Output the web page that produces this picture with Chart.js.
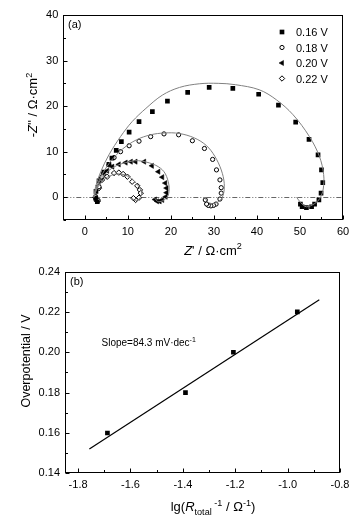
<!DOCTYPE html>
<html><head><meta charset="utf-8">
<script src="https://cdn.jsdelivr.net/npm/chart.js@4.4.1/dist/chart.umd.min.js"></script>
<style>
html,body{margin:0;padding:0;background:#fff;overflow:hidden;width:355px;height:524px}
#ca{position:absolute;left:0;top:0}
#cb{position:absolute;left:0;top:260px}
</style></head>
<body>
<canvas id="ca" width="355" height="260"></canvas>
<canvas id="cb" width="355" height="264"></canvas>
<script>
// ---------- Panel (a): Nyquist data (Z', -Z'') ----------
const A_LABELS = ['0.16 V', '0.18 V', '0.20 V', '0.22 V'];
const A_016 = [[2.5,-0.2],[2.9,-1.0],[2.6,1.3],[3.3,3.6],[4.4,5.5],[5.6,7.2],[6.3,8.6],[7.3,10.3],[8.5,12.2],[10.3,14.3],[12.6,16.6],[15.7,18.8],[19.2,21.1],[23.9,23.0],[28.9,24.1],[34.4,23.9],[40.4,22.6],[45.0,20.2],[49.0,16.5],[52.1,12.7],[54.2,9.3],[55.0,6.0],[55.3,3.2],[54.9,0.9],[54.4,-0.6],[53.4,-1.5],[52.7,-2.1],[51.5,-2.3],[50.5,-2.1],[50.1,-1.5]];
const A_018 = [[2.5,0.1],[3.1,-0.7],[3.3,2.3],[4.0,4.5],[5.6,7.1],[6.8,8.7],[8.3,10.0],[10.3,11.3],[12.6,12.3],[15.3,13.3],[18.4,13.9],[21.8,13.7],[25.0,12.4],[27.8,10.7],[29.7,8.3],[30.6,6.0],[31.4,3.8],[31.7,2.1],[31.7,0.9],[31.4,-0.4],[30.5,-1.5],[29.9,-1.8],[29.3,-1.9],[28.7,-1.8],[28.3,-1.5],[28.0,-0.6]];
const A_020 = [[2.5,0.0],[2.8,-0.8],[3.2,2.5],[3.8,4.2],[4.4,5.3],[5.2,5.8],[6.4,6.7],[7.9,7.2],[9.5,7.6],[10.7,7.8],[11.8,7.8],[13.8,7.8],[15.6,6.9],[17.1,5.6],[18.0,4.4],[18.7,3.1],[19.0,2.0],[19.0,1.0],[18.8,0.1],[18.0,-0.6],[17.4,-0.9],[16.8,-0.9],[16.3,-0.5]];
const A_022 = [[2.5,0.0],[2.9,-0.9],[3.3,2.0],[4.0,3.8],[5.2,4.5],[6.8,5.3],[7.9,5.4],[8.9,5.1],[9.9,4.5],[11.0,3.4],[12.2,2.5],[12.8,1.6],[13.0,0.9],[12.6,-0.1],[11.8,-0.6],[11.3,-0.2]];
// fitted curves (grey)
const FIT_016 = [[2.1,0],[2.5,2.3],[3.7,5.6],[5.6,9.3],[8.3,13.3],[11,16.6],[14.2,19.5],[18,22.4],[22,24.1],[26.6,24.9],[31,25.0],[35,24.7],[40.5,23.6],[44.5,21.4],[48.4,18.1],[52.2,13.3],[54.5,9.0],[55.5,5.0],[55.4,1.8],[54.6,-0.3],[53.4,-1.4],[51.5,-2.1],[50.2,-1.2],[49.2,0]];
const FIT_018 = [[2.1,0],[2.8,2.5],[4.2,5.3],[6.2,8.1],[8.8,10.6],[12,12.6],[15.3,13.7],[18.5,14.1],[21.9,14.0],[25.5,13.0],[28.3,11.3],[30.2,9.0],[31.7,6.0],[32.4,3.0],[32.1,0.3],[31.0,-1.0],[29.7,-1.4],[28.5,-1.0],[27.9,0]];
const FIT_020 = [[2.1,0],[2.8,2.2],[4.0,4.3],[5.5,5.8],[7.3,6.9],[9.5,7.6],[11.5,8.0],[13.4,7.9],[16.5,7.0],[18.4,5.6],[19.4,3.4],[19.6,1.6],[19.2,0.1],[18.0,-0.8],[16.9,-0.9],[16.1,0]];
const FIT_022 = [[2.1,0],[2.8,1.8],[3.8,3.3],[5.2,4.4],[6.8,5.0],[8.4,5.1],[10.0,4.6],[11.4,3.6],[12.6,2.3],[13.2,0.9],[12.6,-0.4],[11.7,-0.7],[11.0,-0.2]];
const A_X_TICKS = [0,10,20,30,40,50,60];
const A_X_MINOR = [5,15,25,35,45,55];
const A_Y_TICKS = [0,10,20,30,40];
const A_Y_MINOR = [-5,5,15,25,35];

// ---------- Panel (b): Tafel-type plot ----------
const B_X = [-1.688,-1.390,-1.207,-0.963];
const B_Y = [0.160,0.180,0.200,0.220];
const B_FIT_X = [-1.757,-0.879];
const B_FIT_Y = [0.152,0.226];
const B_X_TICKS = [-1.8,-1.6,-1.4,-1.2,-1.0,-0.8];
const B_X_MINOR = [-1.7,-1.5,-1.3,-1.1,-0.9];
const B_Y_TICKS = [0.14,0.16,0.18,0.20,0.22,0.24];
const B_Y_MINOR = [0.15,0.17,0.19,0.21,0.23];

const FAM = '"Liberation Sans", Arial, Helvetica, sans-serif';
const toXY = arr => arr.map(p => ({x:p[0], y:p[1]}));

function rich(ctx, parts, x, y, size, rot, align) {
  const fonts = parts.map(p => (p.i ? 'italic ' : '') + ((p.s || 1) * size).toFixed(2) + 'px ' + FAM);
  let w = 0;
  const ws = parts.map((p, k) => { ctx.font = fonts[k]; const m = ctx.measureText(p.t).width; w += m; return m; });
  ctx.save();
  ctx.translate(x, y);
  if (rot) ctx.rotate(rot);
  ctx.fillStyle = '#000';
  ctx.textBaseline = 'alphabetic';
  ctx.textAlign = 'left';
  let cx = align === 'left' ? 0 : -w / 2;
  parts.forEach((p, k) => { ctx.font = fonts[k]; ctx.fillText(p.t, cx, (p.dy || 0) * size); cx += ws[k]; });
  ctx.restore();
}
const SUP = {s:0.7, dy:-0.42};
const SUB = {s:0.7, dy:0.28};

function framePlugin(cfg) {
  return {
    id: 'frame',
    beforeDatasetsDraw(chart) {
      if (!cfg.zeroLine) return;
      const {ctx, chartArea:a, scales:{y}} = chart;
      const py = Math.round(y.getPixelForValue(0)) + 0.5;
      ctx.save();
      ctx.strokeStyle = '#666'; ctx.lineWidth = 1;
      ctx.setLineDash([5,2,1,2,1,2]);
      ctx.beginPath(); ctx.moveTo(a.left, py); ctx.lineTo(a.right, py); ctx.stroke();
      ctx.restore();
    },
    afterDraw(chart) {
      const {ctx, chartArea:a, scales:{x, y}} = chart;
      ctx.save();
      ctx.strokeStyle = '#000'; ctx.lineWidth = 1;
      const L = Math.round(a.left) + 0.5, R = Math.round(a.right) - 0.5;
      const T = Math.round(a.top) + 0.5, B = Math.round(a.bottom) - 0.5;
      ctx.strokeRect(L, T, R - L, B - T);
      ctx.beginPath();
      const tx = (v, len) => { const p = Math.round(x.getPixelForValue(v)) + 0.5; ctx.moveTo(p, B); ctx.lineTo(p, B - len); };
      const ty = (v, len) => { const p = Math.round(y.getPixelForValue(v)) + 0.5; ctx.moveTo(L, p); ctx.lineTo(L + len, p); };
      cfg.xMajor.forEach(v => tx(v, 4)); cfg.xMinor.forEach(v => tx(v, 2.5));
      cfg.yMajor.forEach(v => ty(v, 4)); cfg.yMinor.forEach(v => ty(v, 2.5));
      ctx.stroke();
      ctx.restore();
      cfg.extra && cfg.extra(ctx, chart);
    }
  };
}

function axis(min, max, ticks, fmt, isX, size) {
  return {
    type: 'linear', min, max,
    afterBuildTicks: s => { s.ticks = ticks.map(v => ({value: v})); },
    afterFit: s => { if (isX) s.height = size; else s.width = size; },
    grid: {display: false, drawTicks: false},
    border: {display: false},
    ticks: {autoSkip: false, maxRotation: 0, color: '#000', padding: isX ? 5 : 5,
            font: {family: FAM, size: 11}, callback: v => fmt(v)}
  };
}

// ---------- Chart (a) ----------
const markerStyles = [
  {pointStyle:'rect', pointRadius:3.3, backgroundColor:'#000', borderColor:'#000', borderWidth:0, rotation:0},
  {pointStyle:'circle', pointRadius:2.1, backgroundColor:'#fff', borderColor:'#000', borderWidth:1, rotation:0},
  {pointStyle:'triangle', pointRadius:3.0, backgroundColor:'#000', borderColor:'#000', borderWidth:0.5, rotation:-90},
  {pointStyle:'rectRot', pointRadius:2.7, backgroundColor:'#fff', borderColor:'#000', borderWidth:1, rotation:0}
];
const seriesA = [A_016, A_018, A_020, A_022];
const fitsA = [FIT_016, FIT_018, FIT_020, FIT_022];
const dsA = [];
fitsA.forEach((f, k) => dsA.push({label:'fit'+k, data:toXY(f), showLine:true, borderColor:'#808080', borderWidth:1,
  pointRadius:0, tension:0.35, fill:false, order:0}));
seriesA.forEach((s, k) => dsA.push(Object.assign({label:A_LABELS[k], data:toXY(s), showLine:false, order:1,
  pointHoverRadius:0}, markerStyles[k])));

new Chart(document.getElementById('ca'), {
  type: 'scatter',
  data: {datasets: dsA},
  options: {
    responsive:false, animation:false, events:[],
    layout:{padding:{left:0, right:12, top:15, bottom:0}},
    plugins:{legend:{display:false}, tooltip:{enabled:false}},
    scales:{
      x: axis(-5, 60, A_X_TICKS, v => String(v), true, 40),
      y: axis(-5, 40, A_Y_TICKS, v => String(v), false, 63.3)
    }
  },
  plugins:[framePlugin({zeroLine:true, xMajor:A_X_TICKS, xMinor:A_X_MINOR, yMajor:A_Y_TICKS, yMinor:A_Y_MINOR,
    extra(ctx, chart) {
      rich(ctx, [{t:'(a)'}], 68, 28, 11, 0, 'left');
      // legend
      A_LABELS.forEach((lab, k) => {
        const yy = 32 + k * 15.5;
        const m = markerStyles[k];
        ctx.save();
        ctx.fillStyle = m.backgroundColor; ctx.strokeStyle = m.borderColor; ctx.lineWidth = m.borderWidth;
        Chart.helpers.drawPoint(ctx, {pointStyle:m.pointStyle, radius:m.pointRadius, rotation:m.rotation, borderWidth:m.borderWidth}, 282, yy);
        ctx.restore();
        rich(ctx, [{t:lab}], 296, yy + 4, 11, 0, 'left');
      });
      rich(ctx, [{t:'Z', i:true}, {t:"' / Ω·cm"}, Object.assign({t:'2'}, SUP)], 213, 254.5, 13, 0);
      rich(ctx, [{t:'-'}, {t:'Z', i:true}, {t:"'' / Ω·cm"}, Object.assign({t:'2'}, SUP)], 37, 105, 13, -Math.PI/2);
    }})]
});

// ---------- Chart (b) ----------
new Chart(document.getElementById('cb'), {
  type: 'scatter',
  data: {datasets: [
    {label:'fit', data: B_FIT_X.map((v, k) => ({x:v, y:B_FIT_Y[k]})), showLine:true, borderColor:'#000', borderWidth:1.2,
     pointRadius:0, order:0},
    {label:'data', data: B_X.map((v, k) => ({x:v, y:B_Y[k]})), showLine:false, pointStyle:'rect', pointRadius:3.3,
     backgroundColor:'#000', borderColor:'#000', borderWidth:0, order:1}
  ]},
  options: {
    responsive:false, animation:false, events:[],
    layout:{padding:{left:0, right:15, top:10, bottom:0}},
    plugins:{legend:{display:false}, tooltip:{enabled:false}},
    scales:{
      x: axis(-1.85, -0.8, B_X_TICKS, v => v.toFixed(1), true, 50.7),
      y: axis(0.14, 0.24, B_Y_TICKS, v => v.toFixed(2), false, 65)
    }
  },
  plugins:[framePlugin({zeroLine:false, xMajor:B_X_TICKS, xMinor:B_X_MINOR, yMajor:B_Y_TICKS, yMinor:B_Y_MINOR,
    extra(ctx, chart) {
      rich(ctx, [{t:'(b)'}], 70, 25, 11, 0, 'left');
      rich(ctx, [{t:'Slope=84.3 mV·dec'}, Object.assign({t:'-1'}, SUP)], 101.5, 86, 10, 0, 'left');
      rich(ctx, [{t:'Overpotential / V'}], 30, 101, 12.5, -Math.PI/2);
      rich(ctx, [{t:'lg('}, {t:'R', i:true}, Object.assign({t:'total'}, SUB), Object.assign({t:' -1'}, SUP), {t:' / Ω'},
        Object.assign({t:'-1'}, SUP), {t:')'}], 213, 251, 13, 0);
    }})]
});
</script>
</body></html>
